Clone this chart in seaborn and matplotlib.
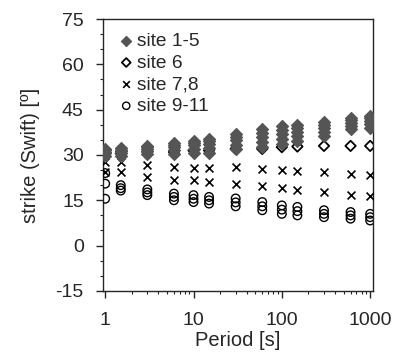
import matplotlib
matplotlib.use("Agg")
import matplotlib.pyplot as plt
import matplotlib.ticker as mticker
import seaborn as sns
import pandas as pd
import numpy as np

periods = [1, 1.5, 3, 6, 10, 15, 30, 60, 100, 150, 300, 600, 1000]

site_1_5 = [
    [29.8, 30.5, 31.0, 31.6, 32.0],
    [29.8, 30.6, 31.3, 31.8, 32.4],
    [30.3, 31.2, 32.0, 32.6, 33.0],
    [30.3, 31.5, 32.6, 33.3, 34.0],
    [30.8, 32.0, 33.2, 34.0, 34.6],
    [30.8, 32.2, 33.6, 34.6, 35.4],
    [32.0, 33.4, 34.8, 36.0, 36.9],
    [32.6, 34.2, 35.8, 37.2, 38.5],
    [33.6, 35.4, 37.0, 38.4, 39.6],
    [34.6, 36.2, 37.6, 38.8, 39.9],
    [36.3, 37.6, 38.9, 40.0, 41.0],
    [38.6, 39.6, 40.6, 41.6, 42.4],
    [39.0, 40.2, 41.3, 42.2, 43.0],
]
site_6 = [30.5, 30.5, 31, 31, 31.5, 31.5, 32, 32, 32.6, 32.8, 33, 33, 33]
site_7_8 = [
    [27.8, 24.4], [27.8, 24.4], [26.7, 22.6], [26.1, 21.7], [25.8, 21.7],
    [25.8, 21.1], [26.1, 20.3], [25.5, 19.7], [25.0, 18.9], [24.8, 18.3],
    [24.4, 17.8], [23.7, 16.9], [23.3, 16.3],
]
site_9_11 = [
    [24.0, 20.5, 15.5], [20.0, 19.0, 18.2], [18.6, 17.6, 16.7], [17.2, 16.1, 15.0],
    [16.7, 15.5, 14.4], [16.1, 15.0, 13.9], [15.6, 14.3, 13.0], [14.4, 13.0, 11.7],
    [13.3, 11.9, 10.5], [12.8, 11.4, 10.0], [11.7, 10.5, 9.4], [11.1, 10.0, 8.9],
    [10.5, 9.4, 8.3],
]
labels = ["site 1-5", "site 6", "site 7,8", "site 9-11"]

rows = []
for i, T in enumerate(periods):
    for v in site_1_5[i]:
        rows.append((T, v, labels[0]))
    rows.append((T, site_6[i], labels[1]))
    for v in site_7_8[i]:
        rows.append((T, v, labels[2]))
    for v in site_9_11[i]:
        rows.append((T, v, labels[3]))
df = pd.DataFrame(rows, columns=["period", "strike", "site"])

sns.set_style("ticks")
plt.rcParams["font.family"] = ["Liberation Sans", "DejaVu Sans"]
plt.rcParams["axes.unicode_minus"] = False

fig = plt.figure(figsize=(3.94, 3.53), dpi=100)
ax = fig.add_axes([0.262, 0.176, 0.685, 0.770])

styles = {
    labels[0]: dict(marker="D", facecolor="#555555", edgecolor="#555555", linewidth=0.8, s=38, zorder=4),
    labels[1]: dict(marker="D", facecolor="none", edgecolor="black", linewidth=1.3, s=28, zorder=3),
    labels[2]: dict(marker="x", color="black", linewidth=1.2, s=32, zorder=3),
    labels[3]: dict(marker="o", facecolor="none", edgecolor="black", linewidth=1.0, s=38, zorder=3),
}
for lab in labels:
    sub = df[df["site"] == lab]
    sns.scatterplot(data=sub, x="period", y="strike", ax=ax, label=lab, **styles[lab])

ax.set_xscale("log")
ax.set_xlim(0.95, 1080)
ax.set_ylim(-15, 75)
ax.set_yticks([-15, 0, 15, 30, 45, 60, 75])
ax.yaxis.set_minor_locator(mticker.MultipleLocator(5))
ax.xaxis.set_major_locator(mticker.FixedLocator([1, 10, 100, 1000]))
ax.xaxis.set_major_formatter(mticker.FixedFormatter(["1", "10", "100", "1000"]))
ax.xaxis.set_minor_locator(mticker.LogLocator(base=10, subs=np.arange(2, 10)))
ax.xaxis.set_minor_formatter(mticker.NullFormatter())
ax.tick_params(axis="both", which="major", direction="out", length=5, width=1, labelsize=14)
ax.tick_params(axis="x", which="major", pad=10.5)
ax.tick_params(axis="y", which="major", pad=9)
ax.tick_params(axis="both", which="minor", direction="out", length=2.5, width=0.8)
for sp in ax.spines.values():
    sp.set_linewidth(1.0)
    sp.set_visible(True)

ax.set_xlabel("Period [s]", fontsize=14.5, labelpad=1)
ax.set_ylabel("strike (Swift) [º]", fontsize=14.5, labelpad=11)

leg = ax.legend(loc="upper left", frameon=False, fontsize=13.8, handletextpad=0.05,
                labelspacing=0.22, borderaxespad=0.5, handlelength=1.0,
                markerscale=0.85, borderpad=0.2)

fig.savefig("out.png", dpi=100)
